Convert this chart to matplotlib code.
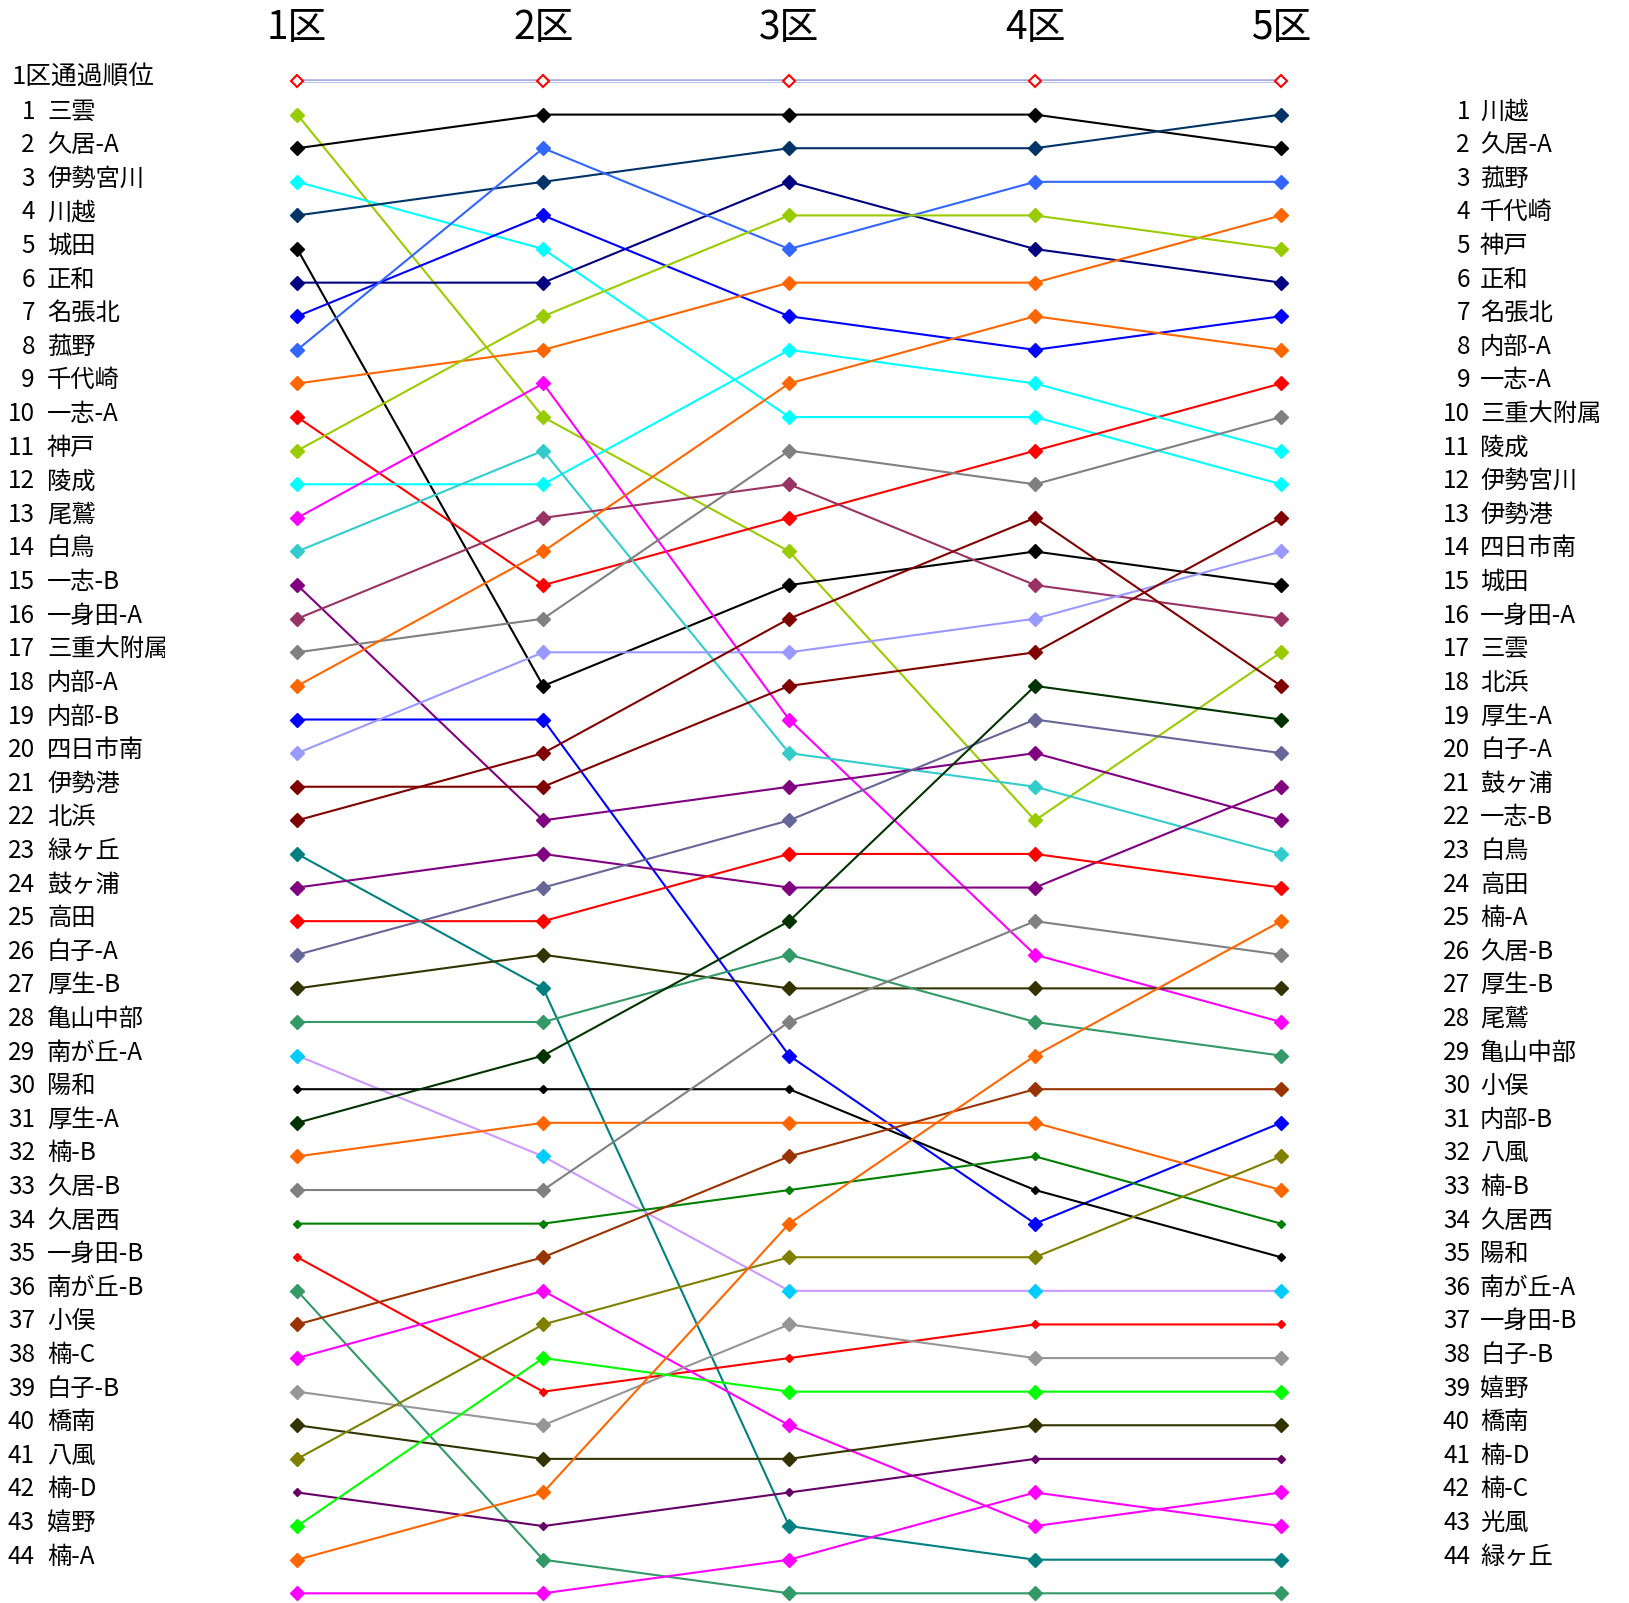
import matplotlib.pyplot as plt
from matplotlib.transforms import Bbox, blended_transform_factory

plt.rcParams['font.family'] = ['Noto Sans CJK JP', 'DejaVu Sans']

# 区間ごとの順位 (1区通過順)
sections = ['1区', '2区', '3区', '4区', '5区']
teams = ['三雲', '久居-A', '伊勢宮川', '川越', '城田', '正和', '名張北', '菰野', '千代崎', '一志-A',
         '神戸', '陵成', '尾鷲', '白鳥', '一志-B', '一身田-A', '三重大附属', '内部-A', '内部-B', '四日市南',
         '伊勢港', '北浜', '緑ヶ丘', '鼓ヶ浦', '高田', '白子-A', '厚生-B', '亀山中部', '南が丘-A', '陽和',
         '厚生-A', '楠-B', '久居-B', '久居西', '一身田-B', '南が丘-B', '小俣', '楠-C', '白子-B', '橋南',
         '八風', '楠-D', '嬉野', '楠-A', '光風']
rank1 = list(range(1, 46))
rank2 = [10, 1, 5, 3, 18, 6, 4, 2, 8, 15, 7, 12, 9, 11, 22, 13, 16, 14, 19, 17,
         21, 20, 27, 23, 25, 24, 26, 28, 32, 30, 29, 31, 33, 34, 39, 44, 35, 36, 40, 41,
         37, 43, 38, 42, 45]
rank3 = [14, 1, 10, 2, 15, 3, 7, 5, 6, 13, 4, 8, 19, 20, 21, 12, 11, 9, 29, 17,
         18, 16, 43, 24, 23, 22, 27, 26, 36, 30, 25, 31, 28, 33, 38, 45, 32, 40, 37, 41,
         35, 42, 39, 34, 44]
rank4 = [22, 1, 10, 2, 14, 5, 8, 3, 6, 11, 4, 9, 26, 21, 20, 15, 12, 7, 34, 16,
         17, 13, 44, 24, 23, 19, 27, 28, 36, 33, 18, 31, 25, 32, 37, 45, 30, 43, 38, 40,
         35, 41, 39, 29, 42]
rank5 = [17, 2, 12, 1, 15, 6, 7, 3, 4, 9, 5, 11, 28, 23, 22, 16, 10, 8, 31, 14,
         13, 18, 44, 21, 24, 20, 27, 29, 36, 35, 19, 33, 26, 34, 37, 45, 30, 42, 38, 40,
         32, 41, 39, 25, 43]

line_colors = ['#99CC00', '#000000', '#00FFFF', '#003366', '#000000', '#000080', '#0000FF', '#3366FF', '#FF6600', '#FF0000',
               '#99CC00', '#00FFFF', '#FF00FF', '#33CCCC', '#800080', '#993366', '#808080', '#FF6600', '#0000FF', '#9999FF',
               '#800000', '#800000', '#008080', '#800080', '#FF0000', '#666699', '#333300', '#339966', '#CC99FF', '#000000',
               '#003300', '#FF6600', '#808080', '#008000', '#FF0000', '#339966', '#993300', '#FF00FF', '#969696', '#333300',
               '#808000', '#660066', '#00FF00', '#FF6600', '#FF00FF']
marker_colors = list(line_colors)
marker_colors[28] = '#00CCFF'  # 南が丘-A
small_marker = {'陽和', '久居西', '一身田-B', '楠-D'}

W, H = 1629, 1603
fig = plt.figure(figsize=(W / 100, H / 100), dpi=100)
x0, x1 = 297.3, 1281.0
y0, y1 = 81.0, 1593.3
ax = fig.add_axes([x0 / W, 1 - y1 / H, (x1 - x0) / W, (y1 - y0) / H])
ax.set_xlim(1, 5)
ax.set_ylim(45, 0)
ax.axis('off')

xs = [1, 2, 3, 4, 5]

# 見出し行
ax.plot(xs, [0] * 5, color='#A8B0E0', lw=2.6, zorder=1, clip_on=False)
ax.plot(xs, [0] * 5, color='white', lw=0.7, zorder=1, clip_on=False)
ax.plot(xs, [0] * 5, ls='none', marker='D', ms=6.5, mfc='white', mec='#FF0000', mew=1.5, zorder=2, clip_on=False)

for i, name in enumerate(teams):
    ys = [rank1[i], rank2[i], rank3[i], rank4[i], rank5[i]]
    ms = 3.8 if name in small_marker else 7
    ax.plot(xs, ys, color=line_colors[i], lw=1.5, marker='D', ms=ms,
            mfc=marker_colors[i], mec=marker_colors[i], mew=1, clip_on=False, zorder=3)

# 区間見出し
tr_top = blended_transform_factory(ax.transData, fig.transFigure)
for k, s in enumerate(sections):
    ax.text(xs[k], 1 - 28 / H, s, transform=tr_top, ha='center', va='center', fontsize=28)

tr_lab = blended_transform_factory(fig.transFigure, ax.transData)
off = 0.09
ax.text(12 / W, 0 - off, '1区通過順位', transform=tr_lab, ha='left', va='center', fontsize=18.5)

clip = Bbox([[0, 0], [165, H]])
for i in range(44):
    r = rank1[i]
    ax.text(35 / W, r - off, str(r), transform=tr_lab, ha='right', va='center', fontsize=17.5)
    t = ax.text(47 / W, r - off, teams[i], transform=tr_lab, ha='left', va='center', fontsize=17.5)
    t.set_clip_box(clip)
    t.set_clip_on(True)

order5 = sorted(range(len(teams)), key=lambda j: rank5[j])
for j in order5[:44]:
    r = rank5[j]
    ax.text(1470 / W, r - off, str(r), transform=tr_lab, ha='right', va='center', fontsize=17.5)
    ax.text(1480 / W, r - off, teams[j], transform=tr_lab, ha='left', va='center', fontsize=17.5)

fig.savefig('out.png', dpi=100)
